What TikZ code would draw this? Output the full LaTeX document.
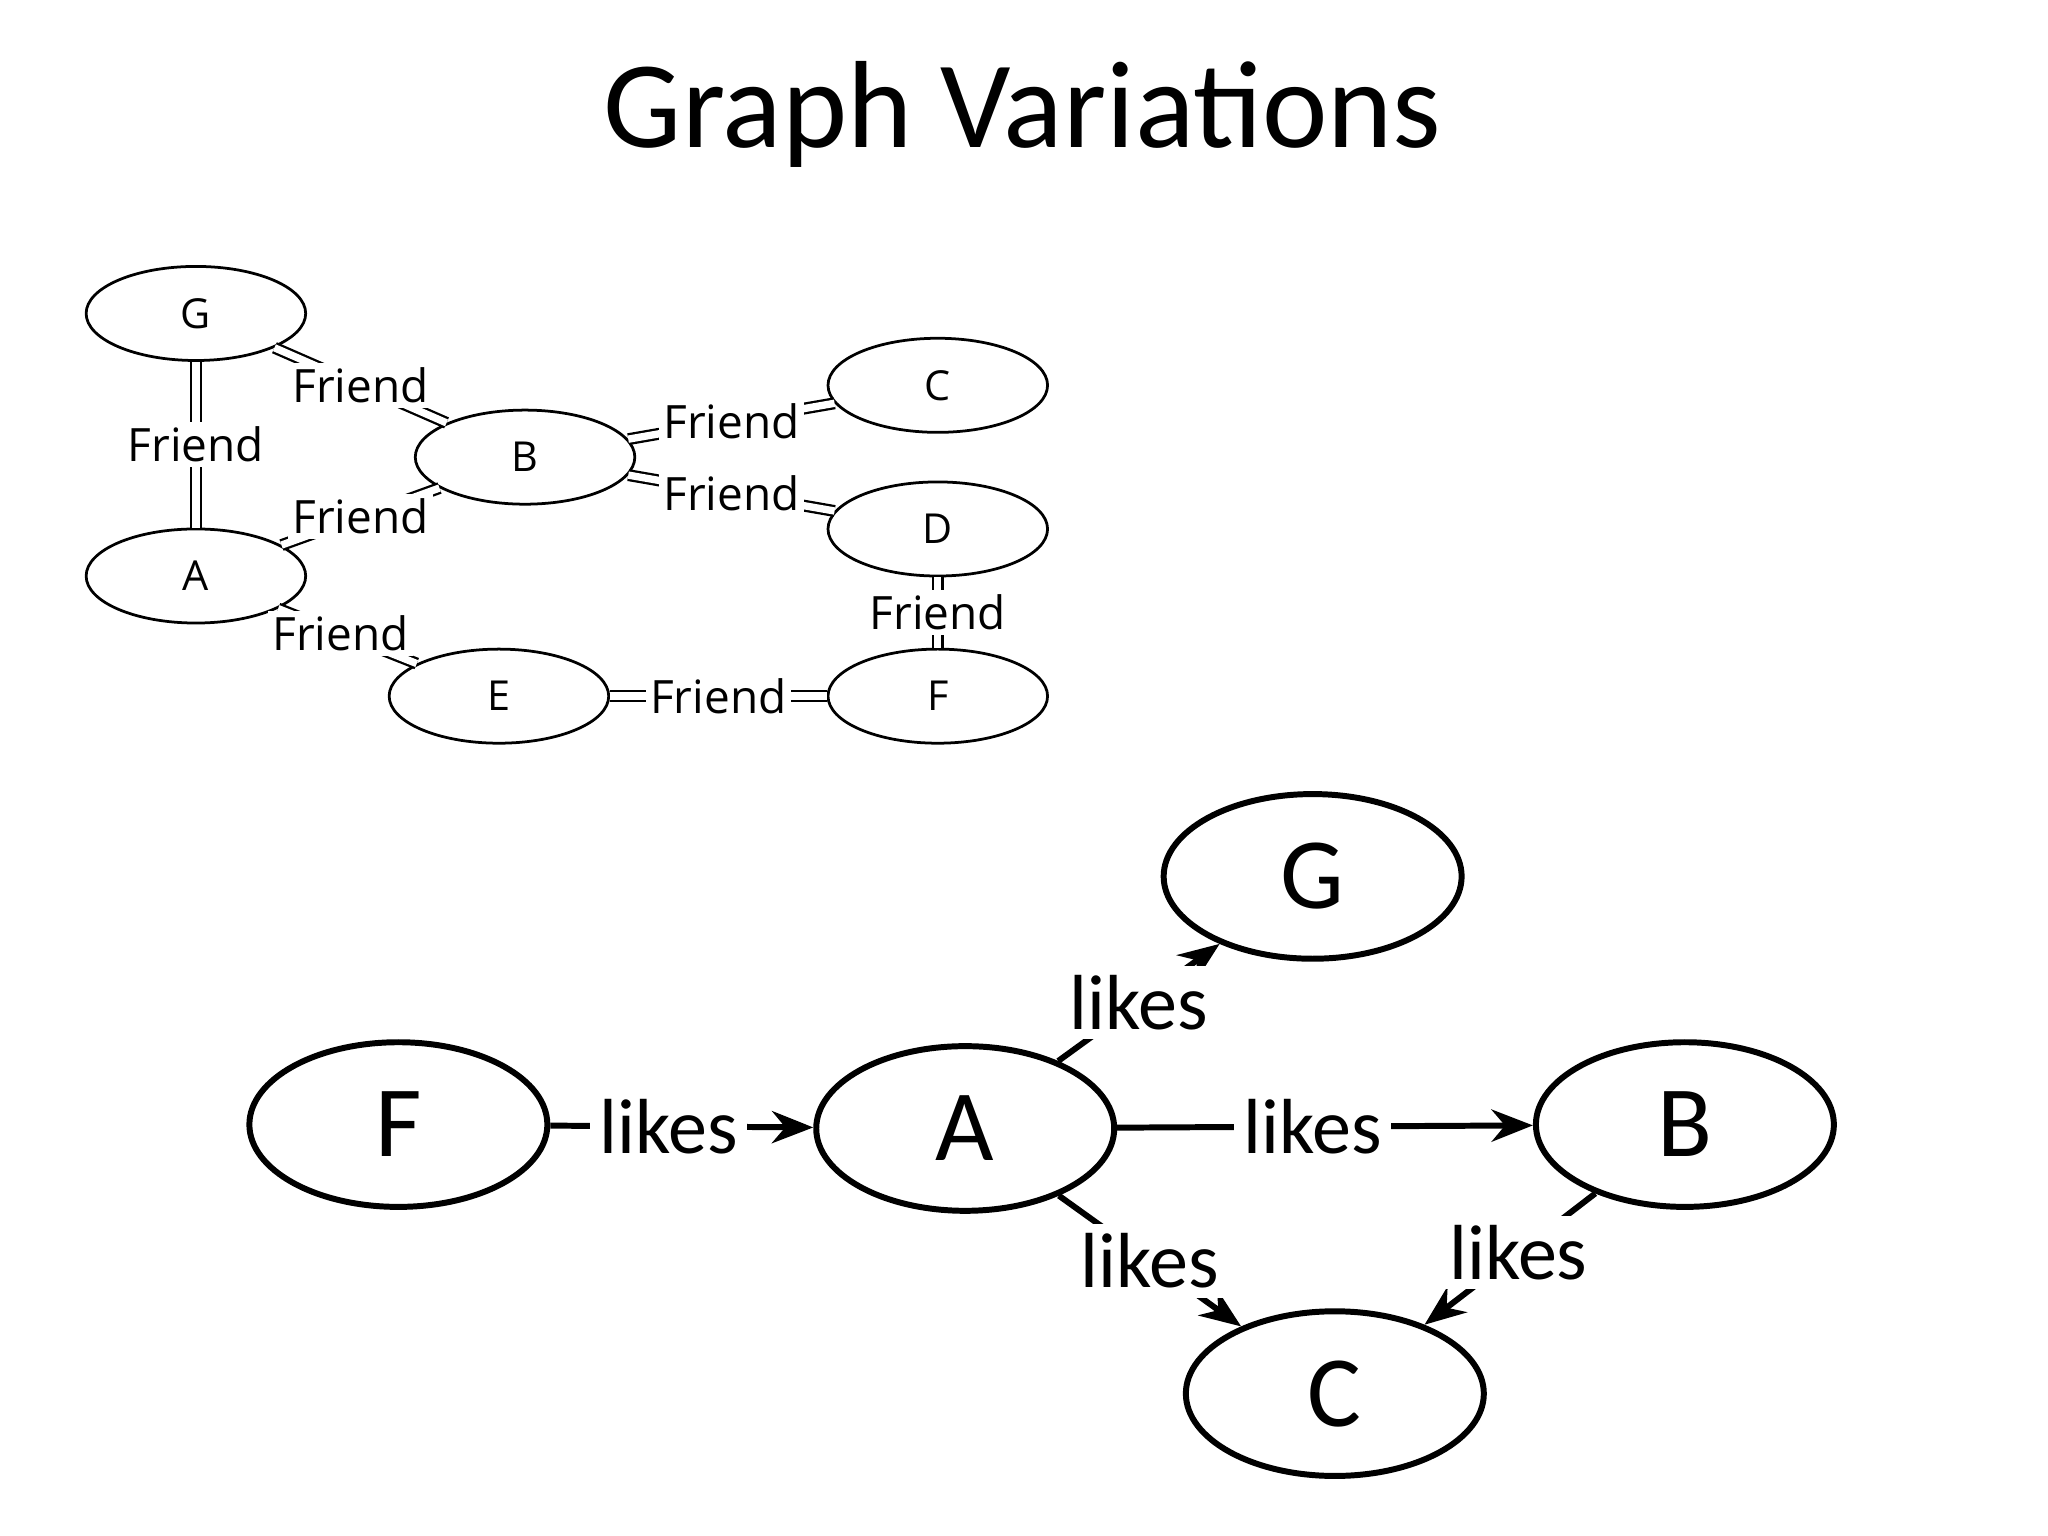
\documentclass[tikz,border=0pt]{standalone}
\usepackage{fontspec}
\setmainfont{Carlito}
\newfontfamily\osans{Open Sans}
\usetikzlibrary{shapes.geometric,arrows.meta}
\begin{document}
\begin{tikzpicture}[x=0.01cm,y=-0.01cm,
  sn/.style={ellipse,draw,line width=0.6pt,minimum width=1.68cm,minimum height=0.72cm,inner sep=0pt,font=\osans\fontsize{9}{10}\selectfont},
  fr/.style={double,double distance=1.6pt,line width=0.5pt},
  fl/.style={fill=white,inner sep=1pt,font=\osans\fontsize{10}{12}\selectfont},
  bn/.style={ellipse,draw,line width=1.3pt,minimum width=2.28cm,minimum height=1.26cm,inner sep=0pt,font=\fontsize{22}{26}\selectfont},
  lk/.style={line width=1.3pt,-{Stealth[length=9pt,width=7pt]}},
  ll/.style={fill=white,inner sep=2pt,font=\fontsize{17}{20}\selectfont}]
\useasboundingbox (0,0) rectangle (1568,1176);
\node[font=\fontsize{27}{32}\selectfont] (title) at (783,88) {Graph Variations};
% top graph
\node[sn] (G) at (150,240) {G};
\node[sn] (C) at (718,295) {C};
\node[sn] (B) at (402,350) {B};
\node[sn] (D) at (718,405) {D};
\node[sn] (A) at (150,441) {A};
\node[sn] (E) at (382,533) {E};
\node[sn] (F) at (718,533) {F};
\draw[fr] (G) -- node[fl,pos=0.5]{Friend} (B);
\draw[fr] (G) -- node[fl]{Friend} (A);
\draw[fr] (B) -- node[fl,pos=0.5]{Friend} (A);
\draw[fr] (B) -- node[fl,pos=0.5]{Friend} (C);
\draw[fr] (B) -- node[fl,pos=0.5]{Friend} (D);
\draw[fr] (D) -- node[fl]{Friend} (F);
\draw[fr] (A) -- node[fl,pos=0.45]{Friend} (E);
\draw[fr] (E) -- node[fl]{Friend} (F);
% bottom graph
\node[bn] (g) at (1005,671) {G};
\node[bn] (f) at (305,861) {F};
\node[bn] (a) at (739,864) {A};
\node[bn] (b) at (1290,861) {B};
\node[bn] (c) at (1022,1067) {C};
\draw[lk] (f) -- node[ll,pos=0.45]{likes} (a);
\draw[lk] (a) -- node[ll,pos=0.47]{likes} (b);
\draw[lk] (a) -- node[ll,pos=0.5]{likes} (g);
\draw[lk] (a) -- node[ll,pos=0.5]{likes} (c);
\draw[lk] (b) -- node[ll,pos=0.45]{likes} (c);
\end{tikzpicture}
\end{document}
